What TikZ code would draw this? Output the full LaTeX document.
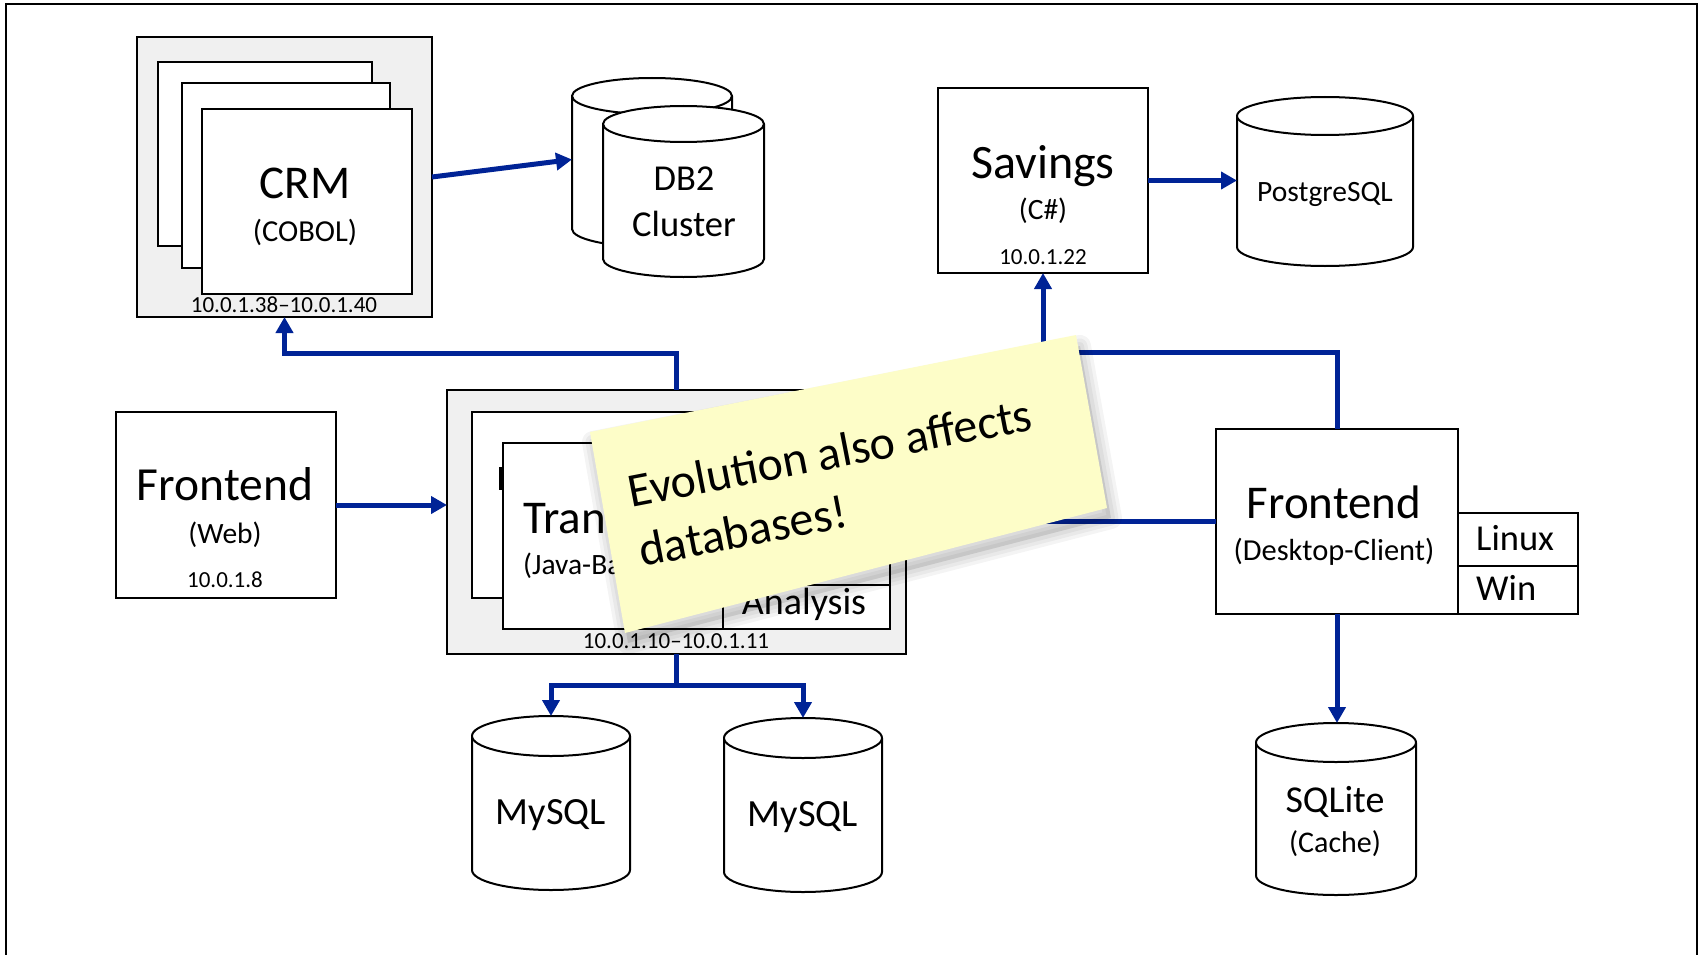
\documentclass[tikz,border=0pt]{standalone}
\usepackage{fontspec}
\setmainfont{Carlito}
\usetikzlibrary{arrows.meta,calc}
\definecolor{lnblue}{RGB}{0,35,150}
\definecolor{grpgray}{RGB}{240,240,240}
\definecolor{notey}{RGB}{253,253,200}
\newcommand{\fs}[1]{\fontsize{#1}{#1}\selectfont}
\newcommand{\dbcyl}[6]{% name, cx, top, bottom, rx, ry
  \fill[white] ({#2-#5},{#3+#6}) -- ({#2-#5},{#4-#6}) arc[start angle=180,end angle=360,x radius=#5pt,y radius=#6pt] -- ({#2+#5},{#3+#6}) -- cycle;
  \draw[cylline] ({#2-#5},{#3+#6}) -- ({#2-#5},{#4-#6}) arc[start angle=180,end angle=360,x radius=#5pt,y radius=#6pt] -- ({#2+#5},{#3+#6});
  \draw[cylline, fill=white] (#2,{#3+#6}) ellipse[x radius=#5pt, y radius=#6pt];
  \node[inner sep=0pt, outer sep=0pt, minimum width={2*#5}, minimum height={#4-#3}] (#1) at (#2,{(#3+#4)/2}) {};
}
\tikzset{
  box/.style={draw, line width=2pt, fill=white, inner sep=0pt, outer sep=0pt},
  grp/.style={draw, line width=2.2pt, fill=grpgray, inner sep=0pt, outer sep=0pt},
  cylline/.style={line width=2pt, line join=round},
  conn/.style={draw=lnblue, line width=5pt, -{Triangle[length=16pt,width=17pt]}},
  lbl/.style={inner sep=0pt, anchor=base, text=black},
  lblw/.style={inner sep=0pt, anchor=base west, text=black},
}
\begin{document}
\begin{tikzpicture}[x=1pt,y=-1pt]
\useasboundingbox (0,0) rectangle (1702,955);
\fill[white] (0,0) rectangle (1702,955);
\draw[line width=2pt] (6,975) -- (6,4) -- (1697,4) -- (1697,975);

% CRM group
\node[grp, minimum width=295, minimum height=280] (crmgrp) at (284.5,177) {};
\node[box, minimum width=214, minimum height=184] (crmA) at (265,154) {};
\node[box, minimum width=208, minimum height=185] (crmB) at (286,175.5) {};
\node[box, minimum width=210, minimum height=185] (crmC) at (307,201.5) {};
\node[lbl, font=\fs{47}] (crmT) at (305,198) {CRM};
\node[lbl, font=\fs{30.5}] (crmS) at (305,241) {(COBOL)};
\node[lbl, font=\fs{23}] (crmIP) at (284,312) {10.0.1.38–10.0.1.40};

% DB2 cluster
\dbcyl{db2back}{652}{78}{247}{80}{18}
\dbcyl{db2front}{683.5}{106}{277}{80.5}{18}
\node[lbl, font=\fs{36.5}] (db2T) at (684,190) {DB2};
\node[lbl, font=\fs{36.5}] (db2S) at (684,236) {Cluster};

% Savings
\node[box, minimum width=210, minimum height=185] (sav) at (1043,180.5) {};
\node[lbl, font=\fs{48}] (savT) at (1043,178) {Savings};
\node[lbl, font=\fs{29.5}] (savS) at (1043,219) {(C\#)};
\node[lbl, font=\fs{23}] (savIP) at (1043,264) {10.0.1.22};

% PostgreSQL
\dbcyl{pg}{1325}{97}{266}{88}{19}
\node[lbl, font=\fs{29.5}] (pgT) at (1325,201) {PostgreSQL};

% Web frontend
\node[box, minimum width=220, minimum height=186] (web) at (226,505) {};
\node[lbl, font=\fs{47.5}] (webT) at (225,500) {Frontend};
\node[lbl, font=\fs{29.5}] (webS) at (225,543) {(Web)};
\node[lbl, font=\fs{23}] (webIP) at (225,587) {10.0.1.8};

% Transaction group
\node[grp, minimum width=459, minimum height=264] (trans) at (676.5,522) {};
\node[box, minimum width=390, minimum height=186] (transA) at (667,505) {};
\fill (499,467) rectangle (503,490);
\node[box, minimum width=387, minimum height=186] (transB) at (696.5,536) {};
\node[box, minimum width=167, minimum height=44] (anal) at (806.5,607) {};
\node[lblw, font=\fs{47}] (transT) at (523,533) {Tran};
\node[lblw, font=\fs{29.5}] (transS) at (523,574) {(Java-Ba};
\node[lbl, font=\fs{38}] (analT) at (804,614) {Analysis};
\node[lbl, font=\fs{23}] (transIP) at (676,648) {10.0.1.10–10.0.1.11};

% MySQL
\dbcyl{myA}{551}{716}{890}{79}{20}
\dbcyl{myB}{803}{718}{892}{79}{20}
\node[lbl, font=\fs{38.5}] (myAT) at (551,824) {MySQL};
\node[lbl, font=\fs{38.5}] (myBT) at (803,826) {MySQL};

% Desktop frontend
\node[box, minimum width=242, minimum height=185] (desk) at (1337,521.5) {};
\node[box, minimum width=120, minimum height=53] (lin) at (1518,539.5) {};
\node[box, minimum width=120, minimum height=48] (win) at (1518,590) {};
\node[lbl, font=\fs{47}] (deskT) at (1334,518) {Frontend};
\node[lbl, font=\fs{30.5}] (deskS) at (1334,560) {(Desktop-Client)};
\node[lblw, font=\fs{36.5}] (linT) at (1476,550) {Linux};
\node[lblw, font=\fs{36.5}] (winT) at (1476,600) {Win};

% SQLite
\dbcyl{sql}{1336}{723}{895}{80}{19.5}
\node[lbl, font=\fs{38}] (sqlT) at (1335,812) {SQLite};
\node[lbl, font=\fs{30}] (sqlS) at (1335,852) {(Cache)};

% connectors
\draw[conn] (crmgrp.east) -- ($(db2back.west)+(0,-3)$);
\draw[conn] (web.east) -- (web.east -| trans.west);
\draw[conn] (trans.north) -- ++(0,-37) -| (crmgrp.south);
\draw[conn] (trans.south) -- ++(0,31) -| (myA.north);
\draw[conn] (trans.south) -- ++(0,31) -| (myB.north);
\draw[conn] (sav.east) -- (sav.east -| pg.west);
\draw[conn] (desk.north) -- ++(0,-77) -| (sav.south);
\draw[conn] (desk.west) -- (desk.west -| trans.east);
\draw[conn] (desk.south) -- (desk.south |- sql.north);

% sticky note
\foreach \w in {22,15,8}
  \draw[black, opacity=0.045, line width=\w pt, line join=round] (593,442) -- (1080,346) -- (1111,518) -- (628,643) -- cycle;
\fill[black, opacity=0.10] (593,442) -- (1080,346) -- (1111,518) -- (628,643) -- cycle;
\fill[notey] (590,432) -- (1076,335) -- (1107,508) -- (625,633) -- cycle;
\node[lblw, rotate=11, font=\fs{48}] (note1) at (631,508) {Evolution also affects};
\node[lblw, rotate=11, font=\fs{48}] (note2) at (642,567) {databases!};
\end{tikzpicture}
\end{document}
